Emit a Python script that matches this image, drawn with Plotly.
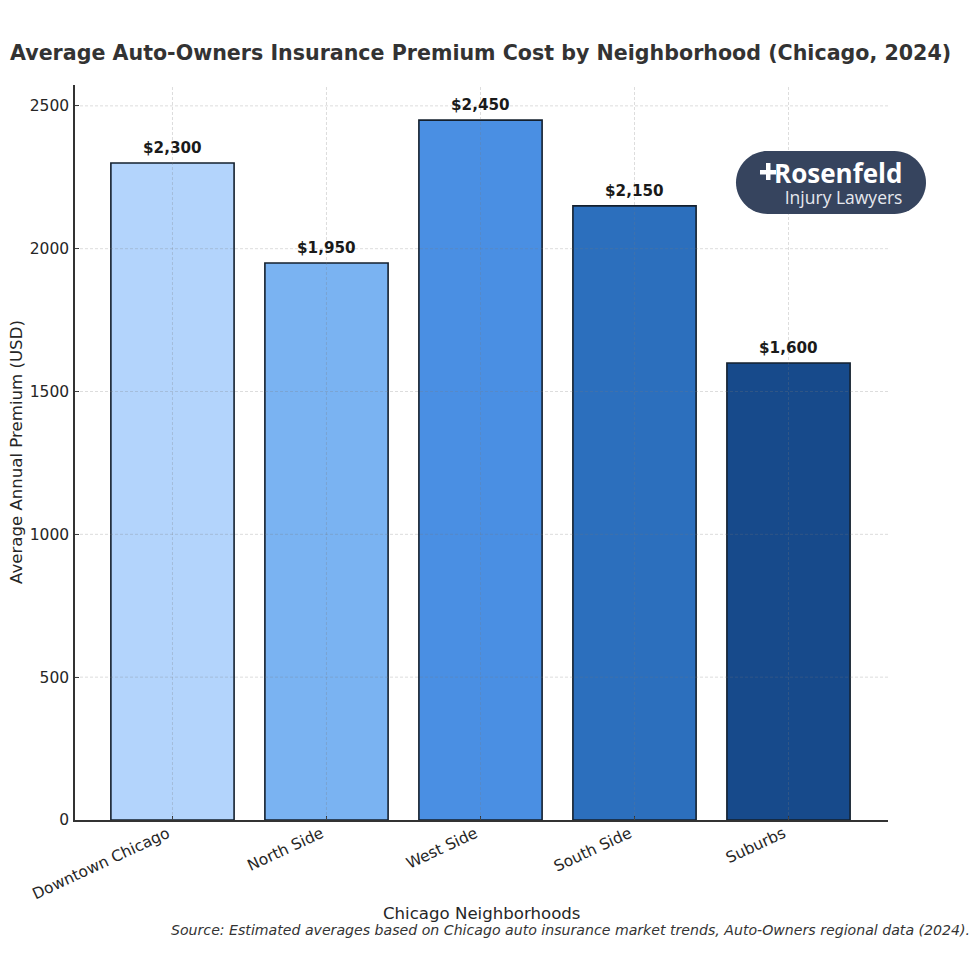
import plotly.graph_objects as go

neighborhoods = ["Downtown Chicago", "North Side", "West Side", "South Side", "Suburbs"]
premiums = [2300, 1950, 2450, 2150, 1600]
bar_colors = ["#b3d4fc", "#7ab3f2", "#4a8fe3", "#2c6fbd", "#174a8b"]
y_ticks = [0, 500, 1000, 1500, 2000, 2500]

OFFSET = 8  # page body margin
W, H = 972, 972
L, R, T, B = 75, 888, 85, 820
FONT = "DejaVu Sans"
DARK = "#262626"
GRID = "rgba(120,120,120,0.32)"


def px(x):
    return (x - OFFSET) / W


def py(y):
    return 1 - (y - OFFSET) / H


fig = go.Figure(go.Bar(
    x=list(range(len(neighborhoods))),
    y=premiums,
    width=0.8,
    marker=dict(color=bar_colors, line=dict(color="#14202e", width=1.6)),
    hoverinfo="skip",
))

shapes = []
for t in y_ticks[1:]:
    shapes.append(dict(type="line", xref="x domain", yref="y", x0=0, x1=1, y0=t, y1=t,
                       line=dict(color=GRID, width=0.8, dash="3px,2px"), layer="above"))
for i in range(len(neighborhoods)):
    shapes.append(dict(type="line", xref="x", yref="y domain", x0=i, x1=i, y0=0, y1=1,
                       line=dict(color=GRID, width=0.8, dash="3px,2px"), layer="above"))

# logo pill
lx0, lx1, ly0, ly1 = 736, 926, 151, 214
r = (ly1 - ly0) / 2
k = r * 0.45
path = (
    f"M {px(lx0 + r)} {py(ly0)} L {px(lx1 - r)} {py(ly0)} "
    f"C {px(lx1 - k)} {py(ly0)} {px(lx1)} {py(ly0 + k)} {px(lx1)} {py(ly0 + r)} "
    f"C {px(lx1)} {py(ly1 - k)} {px(lx1 - k)} {py(ly1)} {px(lx1 - r)} {py(ly1)} "
    f"L {px(lx0 + r)} {py(ly1)} "
    f"C {px(lx0 + k)} {py(ly1)} {px(lx0)} {py(ly1 - k)} {px(lx0)} {py(ly0 + r)} "
    f"C {px(lx0)} {py(ly0 + k)} {px(lx0 + k)} {py(ly0)} {px(lx0 + r)} {py(ly0)} Z"
)
shapes.append(dict(type="path", xref="paper", yref="paper", path=path,
                   fillcolor="#36445e", line=dict(width=0), layer="above"))
# logo plus sign
shapes.append(dict(type="rect", xref="paper", yref="paper", x0=px(760), x1=px(776), y0=py(174.5), y1=py(170),
                   fillcolor="white", line=dict(width=0), layer="above"))
shapes.append(dict(type="rect", xref="paper", yref="paper", x0=px(766), x1=px(770.5), y0=py(180), y1=py(163),
                   fillcolor="white", line=dict(width=0), layer="above"))

annotations = []
for i, v in enumerate(premiums):
    annotations.append(dict(x=i, y=v, xref="x", yref="y", text=f"<b>${v:,}</b>", showarrow=False,
                            yanchor="bottom", yshift=4,
                            font=dict(family=FONT, size=15.2, color="#1a1a1a")))


def note(text, x, y, size, color, anchor="center", angle=0, family=FONT, align="center"):
    annotations.append(dict(x=px(x), y=py(y), xref="paper", yref="paper", text=text, showarrow=False,
                            xanchor=anchor, yanchor="middle", textangle=angle, align=align,
                            font=dict(family=family, size=size, color=color)))


note("<b>Average Auto-Owners Insurance Premium Cost by Neighborhood (Chicago, 2024)</b>",
     8, 53, 20.6, "#333333", "left")
note("Chicago Neighborhoods", 481, 913, 16.6, DARK)
note("Average Annual Premium (USD)", 16, 452, 16.6, DARK, angle=-90)
note("<i>Source: Estimated averages based on Chicago auto insurance market trends, "
     "Auto-Owners regional data (2024).</i>", 972, 930, 14.13, "#333333", "right")
note("<span style='font-size:26px;color:#ffffff'><b>Rosenfeld</b></span><br>"
     "<span style='font-size:17.5px;color:#e6e9ef'>Injury Lawyers</span>",
     904, 182, 16.5, "#ffffff", "right", family="Open Sans", align="right")

fig.update_layout(
    width=W, height=H,
    margin=dict(l=0, r=0, t=0, b=0, autoexpand=False),
    paper_bgcolor="white", plot_bgcolor="white",
    showlegend=False,
    shapes=shapes, annotations=annotations,
    font=dict(family=FONT, color=DARK),
    xaxis=dict(domain=[px(L), px(R)], range=[-0.633, 4.646], tickmode="array",
               tickvals=list(range(len(neighborhoods))), ticktext=neighborhoods,
               tickangle=-25, tickfont=dict(size=15.5, color=DARK), showgrid=False,
               showline=True, linecolor="#333333", linewidth=1.5, zeroline=False,
               ticks="inside", ticklen=4, tickcolor="#333333",
               ticklabelshift=-5, ticklabelstandoff=-3),
    yaxis=dict(domain=[py(B), py(T)], range=[0, 2573], tickmode="array",
               tickvals=y_ticks, tickfont=dict(size=15.5, color=DARK), showgrid=False,
               showline=True, linecolor="#333333", linewidth=1.5, zeroline=False,
               ticks="inside", ticklen=4, tickcolor="#333333", ticklabelstandoff=1),
)

fig.write_html("out.html")
